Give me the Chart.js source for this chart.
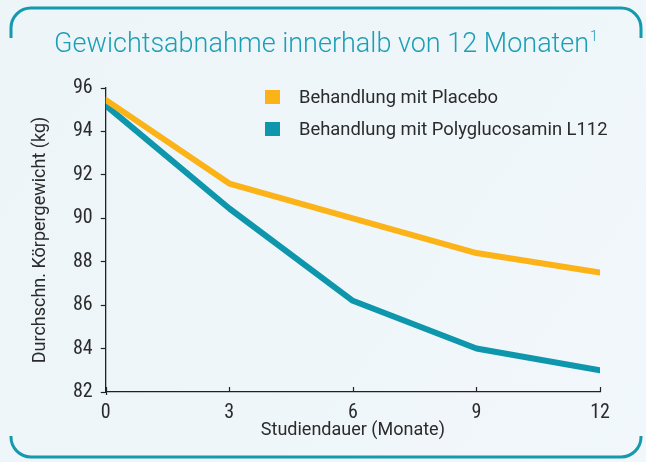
<!DOCTYPE html>
<html>
<head>
<meta charset="utf-8">
<script src="https://cdn.jsdelivr.net/npm/chart.js@4.4.1/dist/chart.umd.min.js"></script>
<style>
html,body{margin:0;padding:0;background:#eef5f9;}
#wrap{width:646px;height:462px;position:relative;}
</style>
</head>
<body>
<div id="wrap"><canvas id="chart" width="646" height="462"></canvas></div>
<script>
// ---- data ----
const months = [0, 3, 6, 9, 12];
const placebo = [95.45, 91.6, 90.0, 88.4, 87.5];
const polyglucosamin = [95.2, 90.45, 86.2, 84.0, 83.0];
const seriesLabels = ["Behandlung mit Placebo", "Behandlung mit Polyglucosamin L112"];
const yTicks = [82, 84, 86, 88, 90, 92, 94, 96];
const xTicks = [0, 3, 6, 9, 12];
const titleText = "Gewichtsabnahme innerhalb von 12 Monaten";
const titleSup = "1";
const xTitle = "Studiendauer (Monate)";
const yTitle = "Durchschn. Körpergewicht (kg)";

const ORANGE = "#fbb317";
const TEAL = "#0e97ac";
const TEXT = "#2b2b2b";
const TITLE_COL = "#1b9fb5";

const toXY = (xs, ys) => xs.map((x, i) => ({x: x, y: ys[i]}));

const decor = {
  id: 'decor',
  beforeDraw(chart) {
    const ctx = chart.ctx;
    ctx.save();
    const g = ctx.createLinearGradient(0, 0, 646, 462);
    g.addColorStop(0, '#edf5f9');
    g.addColorStop(1, '#f1f7fa');
    ctx.fillStyle = g;
    ctx.fillRect(0, 0, chart.width, chart.height);
    // bracket frame
    ctx.strokeStyle = '#1499ae';
    ctx.lineWidth = 3;
    ctx.lineCap = 'butt';
    const L = 11, R = 641, T = 8, B = 457, r = 20;
    ctx.beginPath();
    ctx.moveTo(L, 38);
    ctx.lineTo(L, T + r);
    ctx.arcTo(L, T, L + r, T, r);
    ctx.lineTo(R - r, T);
    ctx.arcTo(R, T, R, T + r, r);
    ctx.lineTo(R, 38);
    ctx.stroke();
    ctx.beginPath();
    ctx.moveTo(L, 436);
    ctx.lineTo(L, B - r);
    ctx.arcTo(L, B, L + r, B, r);
    ctx.lineTo(R - r, B);
    ctx.arcTo(R, B, R, B - r, r);
    ctx.lineTo(R, 436);
    ctx.stroke();
    ctx.restore();
  },
  afterDraw(chart) {
    const ctx = chart.ctx;
    ctx.save();
    // title
    ctx.fillStyle = TITLE_COL;
    ctx.textBaseline = 'alphabetic';
    ctx.font = '300 27px Roboto';
    const w1 = ctx.measureText(titleText).width;
    ctx.font = '300 14px Roboto';
    const w2 = ctx.measureText(titleSup).width;
    const start = 326 - (w1 + w2 + 1) / 2;
    ctx.font = '300 27px Roboto';
    ctx.fillText(titleText, start, 52);
    ctx.font = '300 14px Roboto';
    ctx.fillText(titleSup, start + w1 + 1, 41);
    // legend
    ctx.font = '18.4px Roboto';
    ctx.textBaseline = 'middle';
    chart.data.datasets.forEach((ds, i) => {
      const cy = 97 + i * 32;
      ctx.fillStyle = ds.borderColor;
      ctx.fillRect(265, cy - 7, 15, 14);
      ctx.fillStyle = TEXT;
      ctx.fillText(ds.label, 299, cy + 1);
    });
    // inward x tick marks
    const xs = chart.scales.x;
    const yb = chart.chartArea.bottom;
    ctx.strokeStyle = '#222';
    ctx.lineWidth = 1.2;
    xs.ticks.forEach(t => {
      const px = Math.round(xs.getPixelForValue(t.value)) + 0.5;
      ctx.beginPath();
      ctx.moveTo(px, yb - 5);
      ctx.lineTo(px, t.value === 0 ? yb + 3 : yb);
      ctx.stroke();
    });
    ctx.restore();
  }
};

new Chart(document.getElementById('chart'), {
  type: 'line',
  data: {
    datasets: [
      {label: seriesLabels[0], data: toXY(months, placebo), borderColor: ORANGE, backgroundColor: ORANGE,
       borderWidth: 6, pointRadius: 0, tension: 0, borderCapStyle: 'round', borderJoinStyle: 'round', fill: false},
      {label: seriesLabels[1], data: toXY(months, polyglucosamin), borderColor: TEAL, backgroundColor: TEAL,
       borderWidth: 6, pointRadius: 0, tension: 0, borderCapStyle: 'round', borderJoinStyle: 'round', fill: false}
    ]
  },
  options: {
    responsive: false,
    animation: false,
    devicePixelRatio: 1,
    layout: {padding: {left: 0, right: 46, top: 88, bottom: 23}},
    plugins: {legend: {display: false}, title: {display: false}, tooltip: {enabled: false}},
    scales: {
      x: {
        type: 'linear', min: 0, max: 12,
        afterBuildTicks: s => { s.ticks = xTicks.map(v => ({value: v})); },
        ticks: {color: TEXT, font: {family: 'Roboto Condensed', size: 20, lineHeight: 1}, padding: 11, maxRotation: 0},
        grid: {display: true, drawOnChartArea: false, drawTicks: false, color: '#222'},
        border: {display: true, color: '#222', width: 1.3},
        title: {display: true, text: xTitle, color: TEXT, font: {family: 'Roboto', size: 18, lineHeight: 1}, padding: {top: -13, bottom: 0}}
      },
      y: {
        type: 'linear', min: 82, max: 96,
        afterBuildTicks: s => { s.ticks = yTicks.map(v => ({value: v})); },
        ticks: {color: TEXT, font: {family: 'Roboto Condensed', size: 20, lineHeight: 1}, padding: 8},
        grid: {display: true, drawOnChartArea: false, drawTicks: true, tickLength: 5, color: '#222', tickWidth: 1.2},
        border: {display: true, color: '#222', width: 1.3},
        title: {display: true, text: yTitle, color: TEXT, font: {family: 'Roboto', size: 18, lineHeight: 1}, padding: {top: 31, bottom: 16}}
      }
    }
  },
  plugins: [decor]
});
</script>
</body>
</html>
